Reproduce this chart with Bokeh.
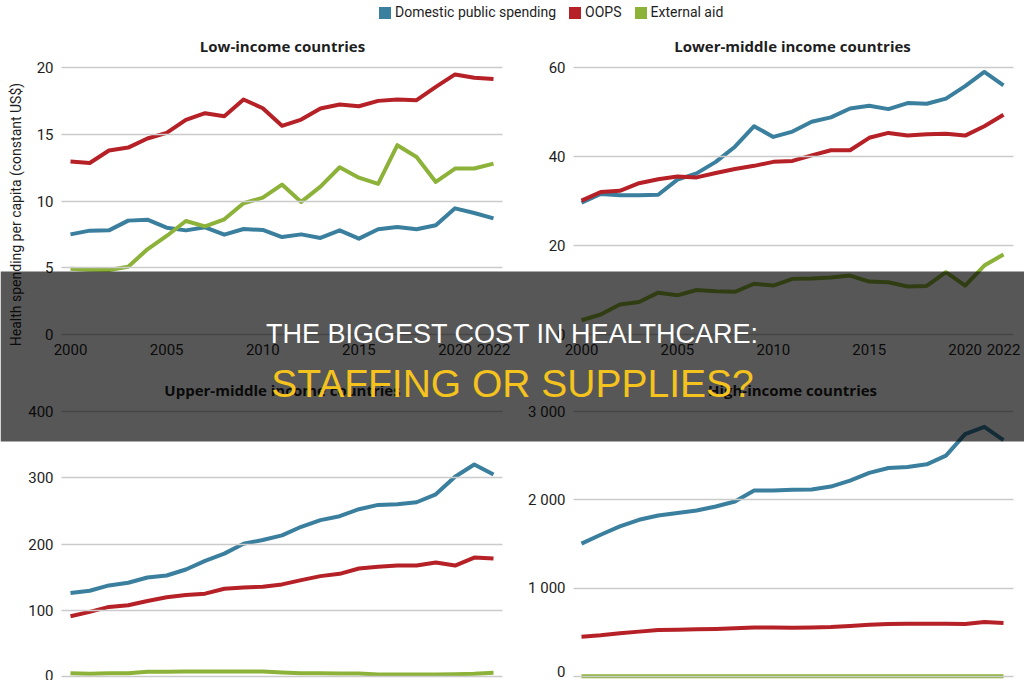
import math

from bokeh.plotting import figure
from bokeh.models import (Range1d, LinearAxis, FixedTicker, Label, BoxAnnotation,
                          Legend, LegendItem)
from bokeh.embed import file_html
from bokeh.resources import INLINE

# ---------------------------------------------------------------- data
years = list(range(2000, 2023))
year_ticks = [2000, 2005, 2010, 2015, 2020, 2022]

series_names = ["Domestic public spending", "OOPS", "External aid"]
series_colors = ["#3a7f9e", "#b52126", "#8db23a"]

panel_titles = ["Low-income countries", "Lower-middle income countries",
                "Upper-middle income countries", "High-income countries"]

# Low-income countries (constant US$ per capita)
low_domestic = [7.5, 7.78, 7.8, 8.53, 8.6, 8.0, 7.8, 8.03, 7.48, 7.9, 7.83, 7.3,
                7.5, 7.23, 7.8, 7.18, 7.88, 8.05, 7.88, 8.18, 9.45, 9.1, 8.7]
low_oops = [12.95, 12.85, 13.78, 14.0, 14.68, 15.1, 16.08, 16.58, 16.35, 17.6, 16.95,
            15.63, 16.1, 16.93, 17.23, 17.1, 17.5, 17.6, 17.55, 18.55, 19.48, 19.23, 19.13]
low_aid = [4.93, 4.85, 4.83, 5.08, 6.38, 7.38, 8.5, 8.1, 8.63, 9.83, 10.25, 11.23,
           9.93, 11.08, 12.53, 11.75, 11.28, 14.18, 13.3, 11.43, 12.43, 12.43, 12.8]

# Lower-middle income countries
lmic_domestic = [29.6, 31.6, 31.3, 31.3, 31.4, 34.8, 36.2, 38.8, 42.2, 46.8, 44.4, 45.6,
                 47.8, 48.8, 50.8, 51.4, 50.65, 52.0, 51.85, 53.0, 55.8, 59.0, 56.0]
lmic_oops = [30.1, 32.0, 32.3, 34.0, 34.9, 35.5, 35.3, 36.3, 37.2, 37.9, 38.8, 39.0,
             40.25, 41.4, 41.4, 44.2, 45.3, 44.7, 45.0, 45.1, 44.7, 46.8, 49.4]
lmic_aid = [3.2, 4.5, 6.75, 7.3, 9.4, 8.8, 10.0, 9.7, 9.6, 11.4, 11.0, 12.5,
            12.6, 12.8, 13.25, 11.9, 11.75, 10.8, 10.9, 14.0, 11.0, 15.5, 18.0]

# Upper-middle income countries
umic_domestic = [126, 129.5, 137.5, 141.5, 149.5, 152.5, 161.5, 174.5, 185.5, 200.5, 206,
                 213, 226, 236, 242, 252.5, 259, 260, 263, 275, 301.5, 320, 305]
umic_oops = [91, 97.5, 105, 107.5, 114, 119.5, 123, 125, 132.5, 134.5, 135.5, 139,
             145.5, 151.5, 155, 163, 165.5, 167.5, 167.5, 172, 167.5, 179.5, 178]
umic_aid = [5, 4, 5, 5, 7, 7, 7.5, 7.5, 7.5, 7.5, 7.5, 6, 5, 5, 4.5, 4.5, 3, 3, 3, 3,
            3.5, 4, 5.5]

# High-income countries
hic_domestic = [1504, 1605, 1699, 1774, 1823, 1850, 1880, 1925, 1981, 2105, 2105, 2113,
                2117, 2150, 2218, 2305, 2361, 2372, 2402, 2500, 2744, 2827, 2677]
hic_oops = [451, 466, 489, 508, 526, 530, 534, 538, 545, 556, 556, 553, 556, 560, 571,
            586, 594, 598, 598, 598, 594, 617, 605]
hic_aid = [2, 2, 2, 2, 2, 2, 2, 2, 2, 2, 2, 2, 2, 2, 2, 2, 2, 2, 2, 2, 2, 2, 2]

low_ticks = [0, 5, 10, 15, 20]
lmic_ticks = [0, 20, 40, 60]
umic_ticks = [0, 100, 200, 300, 400]
hic_ticks = [0, 1000, 2000, 3000]
hic_tick_labels = {1000: "1 000", 2000: "2 000", 3000: "3 000"}

y_axis_label = "Health spending per capita (constant US$)"
headline = "THE BIGGEST COST IN HEALTHCARE:"
subline = "STAFFING OR SUPPLIES?"

# ---------------------------------------------------------------- layout
W, H = 1024, 680
FONT = "Roboto"
TITLE_FONT = "Open Sans"
BANNER_FONT = "Liberation Sans"
INK = "#1e1e1e"
GRID = "#cbcbcb"

# page positions of each small multiple (pixels from the top-left corner)
# first/last year x, zero line y, top tick y, gridline extent, title centre
layout = {
    "tl": dict(x0=70, x1=493, y0=334, ytop=67, gx0=61, gx1=502, tx=282, ty=45, xaxis=True),
    "tr": dict(x0=581, x1=1003, y0=334, ytop=67, gx0=573, gx1=1013, tx=792, ty=45, xaxis=True),
    "bl": dict(x0=70, x1=493, y0=676, ytop=411, gx0=61, gx1=502, tx=282, ty=389, xaxis=False),
    "br": dict(x0=581, x1=1003, y0=676, ytop=411, gx0=573, gx1=1013, tx=792, ty=389, xaxis=False),
}

panels = [
    ("tl", panel_titles[0], [low_domestic, low_oops, low_aid], low_ticks, {}),
    ("tr", panel_titles[1], [lmic_domestic, lmic_oops, lmic_aid], lmic_ticks, {}),
    ("bl", panel_titles[2], [umic_domestic, umic_oops, umic_aid], umic_ticks, {}),
    ("br", panel_titles[3], [hic_domestic, hic_oops, hic_aid], hic_ticks, hic_tick_labels),
]

# One page-sized canvas; the default ranges are page pixels (y down),
# each small multiple gets its own pair of extra ranges.
p = figure(width=W, height=H, x_range=Range1d(0, W), y_range=Range1d(H, 0),
           min_border=0, x_axis_location=None, y_axis_location=None,
           toolbar_location=None, output_backend="svg", title=None,
           outline_line_color=None, background_fill_color="white",
           border_fill_color="white")
for grid in p.grid:
    grid.visible = False

title_labels = []

for key, title, series, yticks, overrides in panels:
    g = layout[key]
    sx = (g["x1"] - g["x0"]) / (years[-1] - years[0])
    xstart = years[0] - g["x0"] / sx
    p.extra_x_ranges[key] = Range1d(xstart, xstart + W / sx)
    sy = (g["y0"] - g["ytop"]) / yticks[-1]
    ystart = -(H - g["y0"]) / sy
    p.extra_y_ranges[key] = Range1d(ystart, ystart + H / sy)

    # value axis: long inward ticks double as the horizontal gridlines
    yax = LinearAxis(x_range_name="default", y_range_name=key,
                     fixed_location=g["gx0"], ticker=FixedTicker(ticks=yticks),
                     axis_line_color=None, minor_tick_line_color=None,
                     major_tick_in=g["gx1"] - g["gx0"], major_tick_out=0,
                     major_tick_line_color=GRID, major_tick_line_width=1.3,
                     major_label_standoff=8, major_label_text_font=FONT,
                     major_label_text_font_size="15px", major_label_text_color=INK)
    if overrides:
        yax.major_label_overrides = overrides
    p.add_layout(yax, "left")

    if g["xaxis"]:
        xax = LinearAxis(x_range_name=key, y_range_name="default",
                         fixed_location=g["y0"], ticker=FixedTicker(ticks=year_ticks),
                         axis_line_color=None, minor_tick_line_color=None,
                         major_tick_in=0, major_tick_out=0, major_label_standoff=9,
                         major_label_text_font=FONT, major_label_text_font_size="15px",
                         major_label_text_color=INK)
        p.add_layout(xax, "below")

    for vals, color in zip(series, series_colors):
        p.line(years, vals, x_range_name=key, y_range_name=key,
               line_color=color, line_width=4, line_join="round")

    title_labels.append(Label(x=g["tx"], y=g["ty"], text=title, text_align="center",
                              text_baseline="middle", text_font=TITLE_FONT,
                              text_font_style="bold", text_font_size="15px",
                              text_color=INK))

for lab in title_labels:
    p.add_layout(lab)

p.add_layout(Label(x=15, y=214, text=y_axis_label, angle=math.pi / 2,
                   text_align="center", text_baseline="middle", text_font=FONT,
                   text_font_size="14px", text_color=INK))

# legend with square swatches (the swatch renderers hold no drawable point)
swatches = [p.quad(left=[math.nan], right=[math.nan], top=[math.nan], bottom=[math.nan],
                   fill_color=c, line_color=None)
            for c in series_colors]
legend = Legend(items=[LegendItem(label=n, renderers=[r])
                       for n, r in zip(series_names, swatches)],
                orientation="horizontal", location=(377, H - 5 - 15),
                glyph_width=15, glyph_height=15, label_height=15, label_standoff=3,
                spacing=11, padding=0, margin=0, border_line_color=None,
                background_fill_alpha=0, label_text_font=FONT,
                label_text_font_size="14px", label_text_color=INK)
p.add_layout(legend)

# dark banner across the middle with the headline
p.add_layout(BoxAnnotation(left=0, right=W, top=271, bottom=441, fill_color="black",
                           fill_alpha=0.66, line_color=None))
p.add_layout(Label(x=512, y=333, text=headline, text_align="center",
                   text_baseline="middle", text_font=BANNER_FONT, text_font_size="27px",
                   text_color="white"))
p.add_layout(Label(x=512, y=383, text=subline, text_align="center",
                   text_baseline="middle", text_font=BANNER_FONT, text_font_size="39px",
                   text_color="#f4c31d"))

open("out.html", "w").write(file_html(p, INLINE))
